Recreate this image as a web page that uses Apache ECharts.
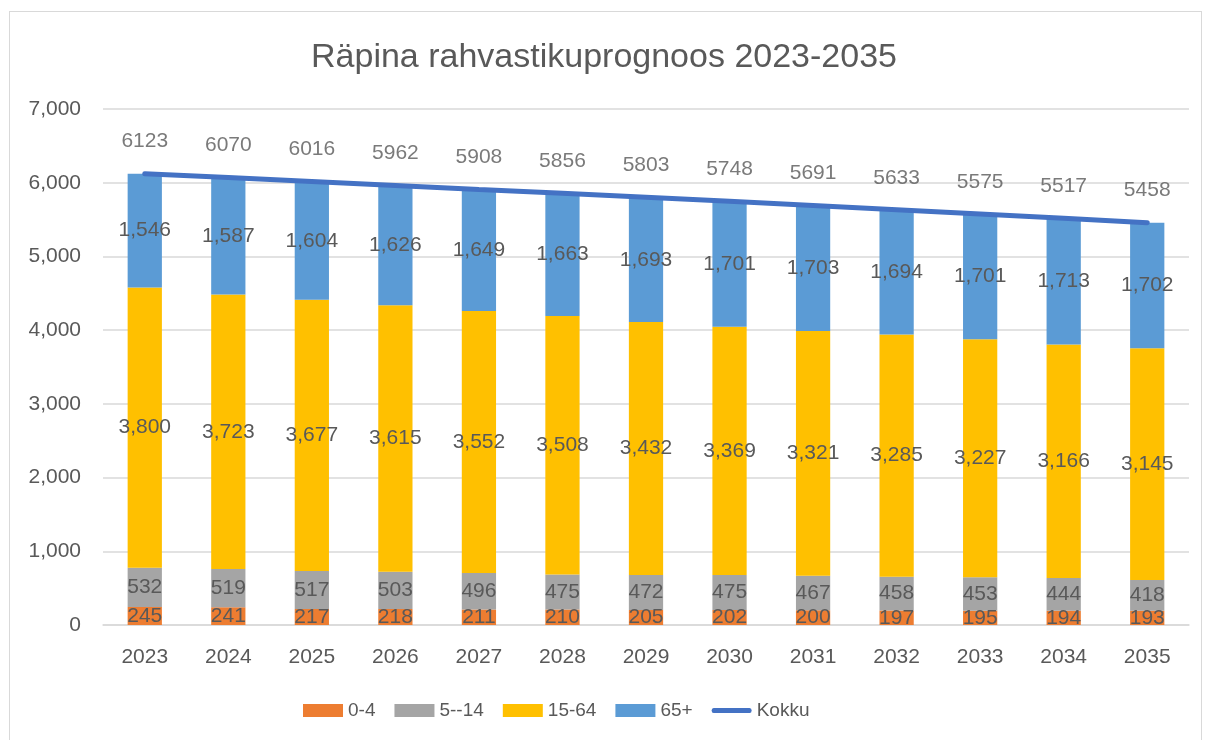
<!DOCTYPE html>
<html>
<head>
<meta charset="utf-8">
<script src="https://cdn.jsdelivr.net/npm/echarts@6/dist/echarts.min.js"></script>
<style>
html,body{margin:0;padding:0;background:#fff;}
#frame{position:absolute;left:9px;top:11px;width:1193px;height:760px;border:1.5px solid #D9D9D9;box-sizing:border-box;}
#chart{position:absolute;left:0;top:0;width:1208px;height:740px;}
</style>
</head>
<body>
<div id="frame"></div>
<div id="chart"></div>
<script>
const title = 'Räpina rahvastikuprognoos 2023-2035';
const years = ['2023','2024','2025','2026','2027','2028','2029','2030','2031','2032','2033','2034','2035'];
const age0_4 = [245,241,217,218,211,210,205,202,200,197,195,194,193];
const age5_14 = [532,519,517,503,496,475,472,475,467,458,453,444,418];
const age15_64 = [3800,3723,3677,3615,3552,3508,3432,3369,3321,3285,3227,3166,3145];
const age65 = [1546,1587,1604,1626,1649,1663,1693,1701,1703,1694,1701,1713,1702];
const kokku = [6123,6070,6016,5962,5908,5856,5803,5748,5691,5633,5575,5517,5458];
const yTicks = [0,1000,2000,3000,4000,5000,6000,7000];

const FONT = '"Liberation Sans", Arial, sans-serif';
const TXT = '#595959';
const FS = 21;
const fmt = v => v.toLocaleString('en-US');

function barSeries(name, data, color){
  return {
    name, type:'bar', stack:'total', data, barWidth:'41%',
    itemStyle:{color},
    label:{show:true, position:'inside', color:TXT, fontFamily:FONT, fontSize:FS,
      formatter:p=>fmt(p.value)},
    emphasis:{disabled:true}
  };
}

const chart = echarts.init(document.getElementById('chart'), null, {renderer:'canvas'});
chart.setOption({
  animation:false,
  backgroundColor:'transparent',
  title:{text:title, left:'center', top:36, textStyle:{color:TXT, fontFamily:FONT, fontSize:34, fontWeight:'normal'}},
  grid:{left:103, right:19, top:109, bottom:115, containLabel:false},
  legend:{
    bottom:15, left:298, itemWidth:40, itemHeight:13, itemGap:19,
    textStyle:{color:TXT, fontFamily:FONT, fontSize:19},
    data:[
      {name:'0-4', icon:'rect'},
      {name:'5--14', icon:'rect'},
      {name:'15-64', icon:'rect'},
      {name:'65+', icon:'rect'},
      {name:'Kokku', icon:'path://M0,0 L0,0 M2,4 L38,4 Q40,4 40,6.5 Q40,9 38,9 L2,9 Q0,9 0,6.5 Q0,4 2,4 Z M40,13 L40,13'}
    ]
  },
  xAxis:{
    type:'category', data:years,
    axisLine:{lineStyle:{color:'#D9D9D9', width:1.5}},
    axisTick:{show:false},
    axisLabel:{color:TXT, fontFamily:FONT, fontSize:FS, margin:22}
  },
  yAxis:{
    type:'value', min:yTicks[0], max:yTicks[yTicks.length-1], interval:1000,
    axisLine:{show:false}, axisTick:{show:false},
    splitLine:{lineStyle:{color:'#D9D9D9', width:1.5}},
    axisLabel:{color:TXT, fontFamily:FONT, fontSize:FS, margin:22, formatter:v=>fmt(v)}
  },
  series:[
    barSeries('0-4', age0_4, '#ED7D31'),
    barSeries('5--14', age5_14, '#A5A5A5'),
    barSeries('15-64', age15_64, '#FFC000'),
    barSeries('65+', age65, '#5B9BD5'),
    {
      name:'Kokku', type:'line', data:kokku, symbol:'none',
      lineStyle:{color:'#4472C4', width:5, cap:'round'},
      itemStyle:{color:'#4472C4'},
      emphasis:{disabled:true}, z:5
    },
    {
      name:'Kokku labels', type:'scatter', data:kokku, symbolSize:1,
      itemStyle:{color:'rgba(0,0,0,0)'},
      label:{show:true, position:'top', distance:21, color:TXT, fontFamily:FONT, fontSize:FS,
        formatter:p=>String(p.value)},
      emphasis:{disabled:true}, silent:true, z:6
    }
  ]
});
</script>
</body>
</html>
